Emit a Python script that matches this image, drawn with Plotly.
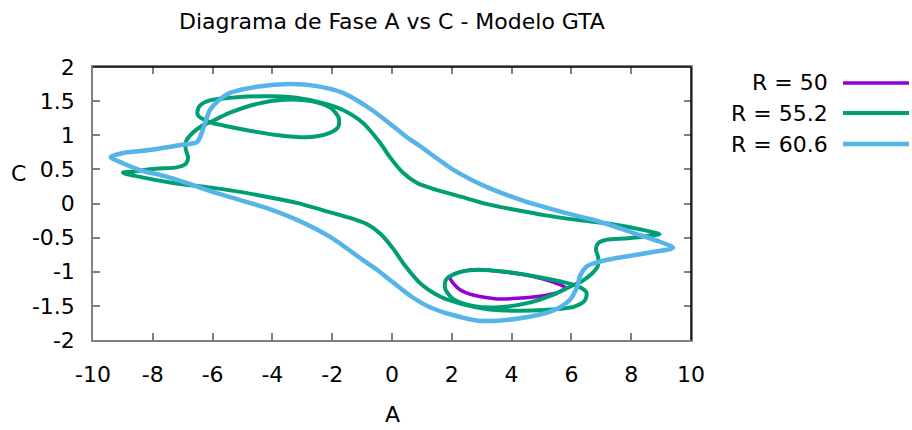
import plotly.graph_objects as go

# Phase portrait A vs C of the GTA model for three values of R
SERIES_NAMES = ["R = 50", "R = 55.2", "R = 60.6"]
SERIES_COLORS = ["#9400D3", "#009E73", "#56B4E9"]

A_R50 = [1.94, 2.05, 2.30, 2.71, 3.20, 3.61, 4.20, 4.72, 5.20, 5.62, 5.79, 5.50,
         5.00, 4.40, 3.70, 3.04, 2.50, 2.15, 1.94]
C_R50 = [-1.08, -1.17, -1.27, -1.34, -1.38, -1.40, -1.39, -1.37, -1.34, -1.29, -1.23, -1.17,
         -1.10, -1.04, -1.00, -0.97, -0.98, -1.02, -1.08]

A_R55 = [-9.00, -8.66, -7.90, -7.19, -6.90, -6.82, -6.90, -6.88, -6.68, -6.35, -5.95, -5.42,
         -4.52, -3.60, -2.70, -2.05, -1.78, -1.80, -2.10, -2.84, -3.80, -4.80, -5.60, -6.15,
         -6.50, -6.45, -6.10, -5.10, -4.00, -3.20, -2.31, -1.64, -0.97, -0.40, -0.07, 0.37,
         0.84, 1.27, 2.30, 3.18, 4.20, 5.08, 6.19, 7.32, 8.43, 8.95,
         8.66, 7.90, 7.19, 6.90, 6.82, 6.90, 6.88, 6.68, 6.35, 5.95, 5.42,
         4.52, 3.60, 2.70, 2.05, 1.78, 1.80, 2.10, 2.84, 3.80, 4.80, 5.60, 6.15,
         6.50, 6.45, 6.10, 5.10, 4.00, 3.20, 2.31, 1.64, 0.97, 0.40, 0.07, -0.37,
         -0.84, -1.27, -2.30, -3.18, -4.20, -5.08, -6.19, -7.32, -8.43, -9.00]
C_R55 = [0.45, 0.47, 0.51, 0.53, 0.58, 0.67, 0.80, 0.92, 1.03, 1.14, 1.22, 1.33,
         1.46, 1.52, 1.50, 1.40, 1.25, 1.12, 1.03, 0.97, 1.00, 1.07, 1.14, 1.20,
         1.30, 1.42, 1.51, 1.56, 1.57, 1.55, 1.47, 1.37, 1.18, 0.89, 0.68, 0.45,
         0.30, 0.23, 0.10, -0.01, -0.10, -0.17, -0.24, -0.30, -0.39, -0.45,
         -0.47, -0.51, -0.53, -0.58, -0.67, -0.80, -0.92, -1.03, -1.14, -1.22, -1.33,
         -1.46, -1.52, -1.50, -1.40, -1.25, -1.12, -1.03, -0.97, -1.00, -1.07, -1.14, -1.20,
         -1.30, -1.42, -1.51, -1.56, -1.57, -1.55, -1.47, -1.37, -1.18, -0.89, -0.68, -0.45,
         -0.30, -0.23, -0.10, 0.01, 0.10, 0.17, 0.24, 0.30, 0.39, 0.45]

A_R60 = [-9.41, -9.00, -8.40, -7.86, -7.02, -6.52, -6.42, -6.25, -6.09, -5.85, -5.42, -4.52,
         -3.41, -2.51, -1.64, -0.67, 0.07, 0.50, 0.97, 2.07, 3.18, 4.40, 5.08, 6.00,
         6.90, 8.06, 8.96, 9.40,
         8.73, 7.63, 6.96, 6.52, 6.30, 6.19, 5.95, 5.38, 4.28, 2.94, 2.00, 1.27,
         0.67, -0.07, -0.50, -0.97, -2.07, -3.18, -4.31, -5.08, -6.00, -6.80, -7.60,
         -8.43, -9.00, -9.41]
C_R60 = [0.68, 0.74, 0.77, 0.80, 0.86, 0.90, 0.97, 1.18, 1.37, 1.49, 1.62, 1.71,
         1.75, 1.72, 1.62, 1.37, 1.12, 0.97, 0.83, 0.49, 0.24, 0.04, -0.05, -0.16,
         -0.26, -0.43, -0.56, -0.65,
         -0.71, -0.79, -0.85, -0.92, -1.05, -1.22, -1.41, -1.57, -1.68, -1.72, -1.63, -1.52,
         -1.37, -1.12, -0.97, -0.83, -0.49, -0.24, -0.05, 0.05, 0.17, 0.29, 0.40,
         0.49, 0.59, 0.68]

X_TICKS = [-10, -8, -6, -4, -2, 0, 2, 4, 6, 8, 10]
Y_TICKS = [2, 1.5, 1, 0.5, 0, -0.5, -1, -1.5, -2]
X_TICK_TEXT = ["-10", "-8", "-6", "-4", "-2", "0", "2", "4", "6", "8", "10"]
Y_TICK_TEXT = ["2", "1.5", "1", "0.5", "0", "-0.5", "-1", "-1.5", "-2"]

FONT = "DejaVu Sans"
FSIZE = 22
series = [(A_R50, C_R50), (A_R55, C_R55), (A_R60, C_R60)]
widths = [3.5, 4, 4.5]

fig = go.Figure()
for (xs, ys), name, color, w in zip(series, SERIES_NAMES, SERIES_COLORS, widths):
    fig.add_trace(go.Scatter(
        x=xs, y=ys, mode="lines", name=name,
        line=dict(color=color, width=w, shape="spline", smoothing=0.8),
        showlegend=False,
    ))

# key drawn to the right of the plot: label first, then the line sample
legend_y = [0.9414, 0.8315, 0.7179]
for name, color, w, ly in zip(SERIES_NAMES, SERIES_COLORS, widths, legend_y):
    fig.add_annotation(x=1.2324, y=ly, xref="paper", yref="paper", text=name,
                       showarrow=False, xanchor="right", yanchor="middle",
                       font=dict(family=FONT, size=FSIZE, color="black"))
    fig.add_shape(type="line", xref="paper", yref="paper",
                  x0=1.2542, x1=1.3645, y0=ly, y1=ly,
                  line=dict(color=color, width=w))

# black top and right frame edges
fig.add_shape(type="line", xref="paper", yref="paper", x0=0, x1=1, y0=1, y1=1,
              line=dict(color="black", width=1.5))
fig.add_shape(type="line", xref="paper", yref="paper", x0=1, x1=1, y0=0, y1=1,
              line=dict(color="black", width=1.5))

fig.add_annotation(x=0.5, y=1.165, xref="paper", yref="paper",
                   text="Diagrama de Fase A vs C - Modelo GTA", showarrow=False,
                   xanchor="center", yanchor="middle",
                   font=dict(family=FONT, size=FSIZE, color="black"))
fig.add_annotation(x=0.5, y=-0.2747, xref="paper", yref="paper", text="A",
                   showarrow=False, xanchor="center", yanchor="middle",
                   font=dict(family=FONT, size=FSIZE, color="black"))
fig.add_annotation(x=-0.1254, y=0.6117, xref="paper", yref="paper", text="C",
                   showarrow=False, xanchor="center", yanchor="middle",
                   font=dict(family=FONT, size=FSIZE, color="black"))

fig.update_layout(
    width=912, height=430,
    margin=dict(l=93, r=221, t=67, b=90),
    paper_bgcolor="white", plot_bgcolor="white",
    xaxis=dict(range=[-10, 10], tickvals=X_TICKS, ticktext=X_TICK_TEXT,
               ticks="inside", ticklen=7, tickcolor="#808080", tickwidth=1.5,
               showline=True, linecolor="#808080", linewidth=1.5, mirror="ticks",
               showgrid=False, zeroline=False, ticklabelstandoff=14,
               tickfont=dict(family=FONT, size=FSIZE, color="black")),
    yaxis=dict(range=[-2, 2], tickvals=Y_TICKS, ticktext=Y_TICK_TEXT,
               ticks="inside", ticklen=7, tickcolor="#808080", tickwidth=1.5,
               showline=True, linecolor="#808080", linewidth=1.5, mirror="ticks",
               showgrid=False, zeroline=False, ticklabelstandoff=12,
               tickfont=dict(family=FONT, size=FSIZE, color="black")),
)

fig.write_html("out.html")
